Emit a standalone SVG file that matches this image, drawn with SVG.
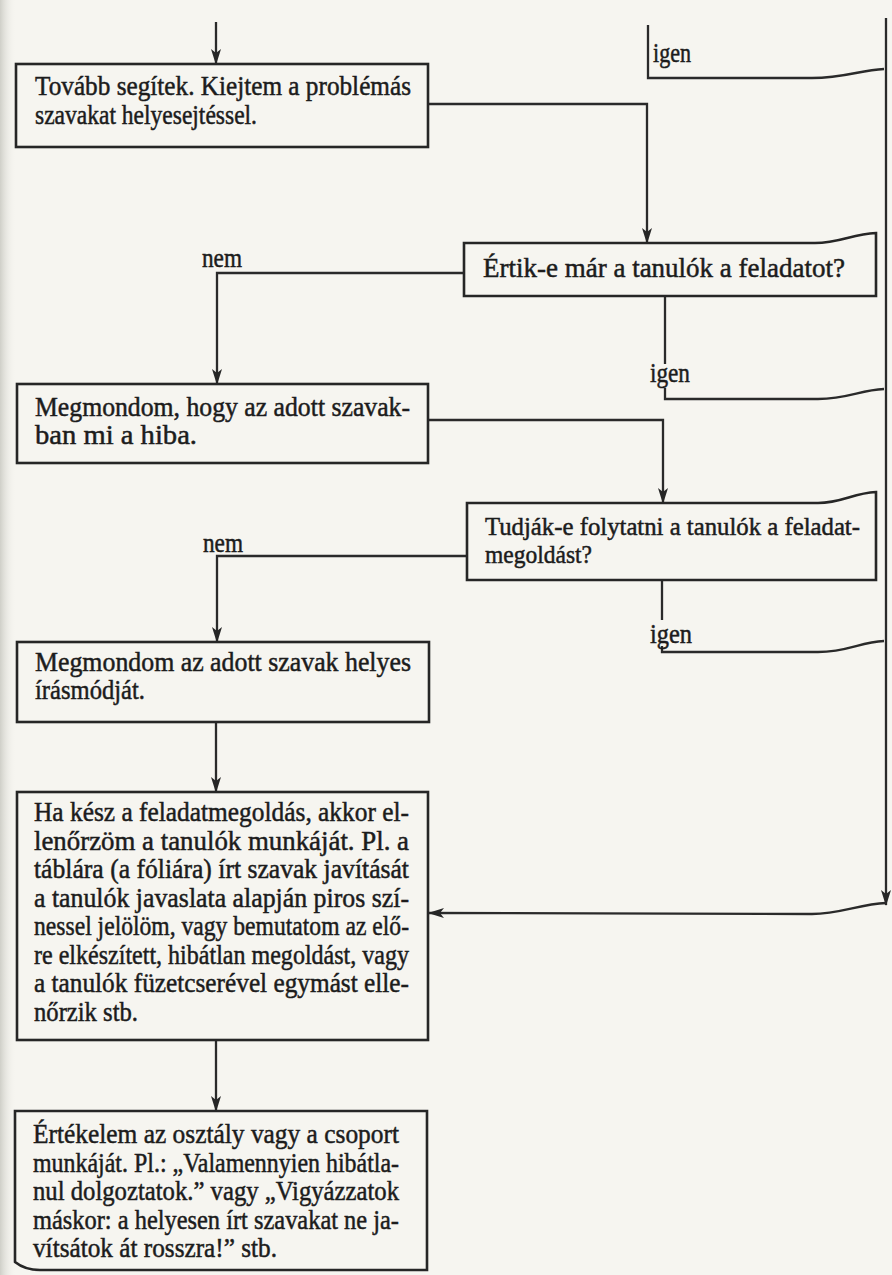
<svg xmlns="http://www.w3.org/2000/svg" width="892" height="1275" viewBox="0 0 892 1275">
  <defs>
    <style>
      .box { fill: none; stroke: #262626; stroke-width: 2.6; stroke-linejoin: miter; }
      .ln { fill: none; stroke: #2a2a2a; stroke-width: 2.3; }
      .arr { marker-end: url(#head); }
      text { font-family: "Liberation Serif", "Times New Roman", serif; font-size: 28px; fill: #1c1c1c; stroke: #1c1c1c; stroke-width: 0.5; }
      .lbl { font-size: 27px; }
      .sm { font-size: 26px; }
    </style>
    <marker id="head" viewBox="0 0 16 10" refX="15" refY="5" markerWidth="16" markerHeight="10" markerUnits="userSpaceOnUse" orient="auto">
      <path d="M0,0 L16,5 L0,10 L4,5 Z" fill="#262626"/>
    </marker>
    <linearGradient id="gutter" x1="0" y1="0" x2="1" y2="0">
      <stop offset="0" stop-color="#cfcfc8"/>
      <stop offset="1" stop-color="#f6f5f0" stop-opacity="0"/>
    </linearGradient>
  </defs>

  <!-- page -->
  <rect x="0" y="0" width="892" height="1275" fill="#f6f5f0"/>
  <rect x="0" y="0" width="16" height="1275" fill="url(#gutter)"/>

  <!-- connectors -->
  <g id="connectors">
    <path class="ln arr" d="M216,22 L216,64"/>
    <path class="ln" d="M648,25 L648,78 L812,78 C845,78 860,70 884,69"/>
    <path class="ln arr" d="M886,18 L886,905"/>
    <path class="ln arr" d="M886,903 C860,904 840,914 812,914 L429,913"/>
    <path class="ln arr" d="M428,104 L647,104 L647,243"/>
    <path class="ln arr" d="M464,273 L217,273 L217,384"/>
    <path class="ln" d="M665,296 L665,364"/>
    <path class="ln" d="M665,388 L665,399 L818,399 C848,399 860,390 884,389"/>
    <path class="ln arr" d="M428,420 L663,420 L663,503"/>
    <path class="ln arr" d="M467,556 L217,556 L217,642"/>
    <path class="ln" d="M662,580 L662,620"/>
    <path class="ln" d="M662,646 L662,652 L818,652 C848,652 860,642 884,641"/>
    <path class="ln arr" d="M216,722 L216,792"/>
    <path class="ln arr" d="M216,1040 L216,1111"/>
  </g>

  <!-- branch labels -->
  <g id="labels">
    <text class="lbl" x="653" y="62" textLength="38" lengthAdjust="spacingAndGlyphs">igen</text>
    <text class="lbl" x="202" y="267" textLength="40" lengthAdjust="spacingAndGlyphs">nem</text>
    <text class="lbl" x="650" y="382" textLength="40" lengthAdjust="spacingAndGlyphs">igen</text>
    <text class="lbl" x="203" y="552" textLength="40" lengthAdjust="spacingAndGlyphs">nem</text>
    <text class="lbl" x="650" y="643" textLength="42" lengthAdjust="spacingAndGlyphs">igen</text>
  </g>

  <!-- step: further help -->
  <g id="n-help">
    <rect class="box" x="16" y="64" width="412" height="83"/>
    <text x="35" y="95" textLength="376" lengthAdjust="spacingAndGlyphs">Tovább segítek. Kiejtem a problémás</text>
    <text x="35" y="123.5" textLength="222" lengthAdjust="spacingAndGlyphs">szavakat helyesejtéssel.</text>
  </g>

  <!-- decision: understood? -->
  <g id="n-understood">
    <path class="box" d="M464,243 L815,243 C840,243 852,234 876,233 L876,296 L464,296 Z"/>
    <text x="483" y="277" textLength="362" lengthAdjust="spacingAndGlyphs">Értik-e már a tanulók a feladatot?</text>
  </g>

  <!-- step: say what is wrong -->
  <g id="n-error">
    <rect class="box" x="17" y="384" width="411" height="79"/>
    <text x="35" y="416" textLength="375" lengthAdjust="spacingAndGlyphs">Megmondom, hogy az adott szavak-</text>
    <text x="35" y="444" textLength="162" lengthAdjust="spacingAndGlyphs">ban mi a hiba.</text>
  </g>

  <!-- decision: can continue? -->
  <g id="n-continue">
    <path class="box" d="M467,503 L818,503 C842,503 853,493 876,492 L876,580 L467,580 Z"/>
    <text class="sm" x="485" y="535" textLength="375" lengthAdjust="spacingAndGlyphs">Tudják-e folytatni a tanulók a feladat-</text>
    <text class="sm" x="485" y="563" textLength="107" lengthAdjust="spacingAndGlyphs">megoldást?</text>
  </g>

  <!-- step: give spelling -->
  <g id="n-spelling">
    <rect class="box" x="17" y="642" width="412" height="80"/>
    <text x="35" y="671" textLength="376" lengthAdjust="spacingAndGlyphs">Megmondom az adott szavak helyes</text>
    <text x="35" y="699" textLength="110" lengthAdjust="spacingAndGlyphs">írásmódját.</text>
  </g>

  <!-- step: check the work -->
  <g id="n-check">
    <rect class="box" x="17" y="792" width="411" height="248"/>
    <text x="34" y="821" textLength="375" lengthAdjust="spacingAndGlyphs">Ha kész a feladatmegoldás, akkor el-</text>
    <text x="34" y="849.5" textLength="375" lengthAdjust="spacingAndGlyphs">lenőrzöm a tanulók munkáját. Pl. a</text>
    <text x="34" y="878" textLength="375" lengthAdjust="spacingAndGlyphs">táblára (a fóliára) írt szavak javítását</text>
    <text x="34" y="906.5" textLength="375" lengthAdjust="spacingAndGlyphs">a tanulók javaslata alapján piros szí-</text>
    <text x="34" y="935" textLength="375" lengthAdjust="spacingAndGlyphs">nessel jelölöm, vagy bemutatom az elő-</text>
    <text x="34" y="963.5" textLength="375" lengthAdjust="spacingAndGlyphs">re elkészített, hibátlan megoldást, vagy</text>
    <text x="34" y="992" textLength="375" lengthAdjust="spacingAndGlyphs">a tanulók füzetcserével egymást elle-</text>
    <text x="34" y="1020.5" textLength="104" lengthAdjust="spacingAndGlyphs">nőrzik stb.</text>
  </g>

  <!-- step: evaluate -->
  <g id="n-evaluate">
    <path class="box" d="M15,1111 L427,1111 L427,1270 L40,1270 C28,1270 20,1266 15,1262 Z"/>
    <text x="33" y="1143" textLength="366" lengthAdjust="spacingAndGlyphs">Értékelem az osztály vagy a csoport</text>
    <text x="33" y="1171.5" textLength="366" lengthAdjust="spacingAndGlyphs">munkáját. Pl.: „Valamennyien hibátla-</text>
    <text x="33" y="1200" textLength="366" lengthAdjust="spacingAndGlyphs">nul dolgoztatok.” vagy „Vigyázzatok</text>
    <text x="33" y="1228.5" textLength="366" lengthAdjust="spacingAndGlyphs">máskor: a helyesen írt szavakat ne ja-</text>
    <text x="33" y="1257" textLength="244" lengthAdjust="spacingAndGlyphs">vítsátok át rosszra!” stb.</text>
  </g>
</svg>
